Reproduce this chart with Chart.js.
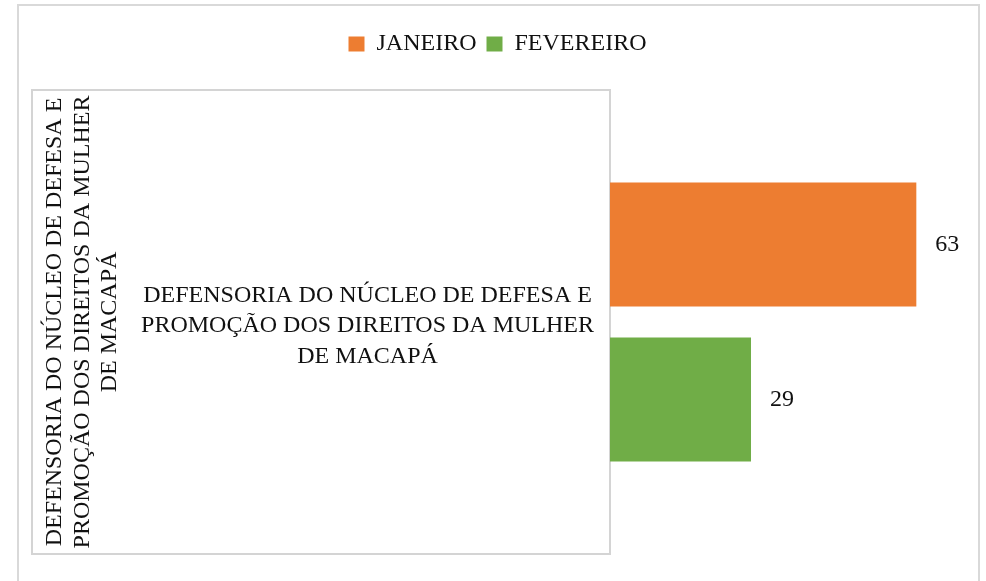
<!DOCTYPE html>
<html>
<head>
<meta charset="utf-8">
<script src="https://cdn.jsdelivr.net/npm/chart.js@4"></script>
<style>
  html, body { margin: 0; padding: 0; background: #fff; overflow: hidden; }
  #frame {
    position: absolute; left: 17px; top: 4px;
    width: 959px; height: 700px;
    border: 2px solid #d9d9d9;
  }
  #chart { position: absolute; left: 0; top: 0; }
</style>
</head>
<body>
<div id="frame"></div>
<canvas id="chart" width="986" height="581"></canvas>
<script>
const categories = [['DEFENSORIA DO NÚCLEO DE DEFESA E', 'PROMOÇÃO DOS DIREITOS DA MULHER', 'DE MACAPÁ']];
const axisTitle = ['DEFENSORIA DO NÚCLEO DE DEFESA E', 'PROMOÇÃO DOS DIREITOS DA MULHER', 'DE MACAPÁ'];
const seriesNames = ['JANEIRO', 'FEVEREIRO'];
const janeiro = [63];
const fevereiro = [29];

const serif = 'Liberation Serif, Times New Roman, serif';

// Box around the category axis area, like the original
const axisBox = {
  id: 'axisBox',
  beforeDatasetsDraw(chart) {
    const y = chart.scales.y;
    const area = chart.chartArea;
    const ctx = chart.ctx;
    ctx.save();
    ctx.strokeStyle = '#d4d4d4';
    ctx.lineWidth = 2;
    ctx.strokeRect(y.left, area.top, y.right - y.left, area.bottom - area.top);
    ctx.restore();
  }
};

// Value labels at the end of each bar
const valueLabels = {
  id: 'valueLabels',
  afterDatasetsDraw(chart) {
    const ctx = chart.ctx;
    ctx.save();
    ctx.font = '24px ' + serif;
    ctx.fillStyle = '#111';
    ctx.textAlign = 'left';
    ctx.textBaseline = 'middle';
    chart.data.datasets.forEach((ds, i) => {
      chart.getDatasetMeta(i).data.forEach((bar, j) => {
        ctx.fillText(ds.data[j], bar.x + 19, bar.y);
      });
    });
    ctx.restore();
  }
};

new Chart(document.getElementById('chart'), {
  type: 'bar',
  data: {
    labels: categories,
    datasets: [
      { label: seriesNames[0], data: janeiro, backgroundColor: '#ED7D31' },
      { label: seriesNames[1], data: fevereiro, backgroundColor: '#70AD47' }
    ]
  },
  options: {
    indexAxis: 'y',
    responsive: false,
    animation: false,
    categoryPercentage: 0.668,
    barPercentage: 0.8,
    layout: { padding: { left: 32, right: 23, top: 22, bottom: 27 } },
    plugins: {
      tooltip: { enabled: false },
      legend: {
        position: 'top',
        labels: {
          boxWidth: 16,
          boxHeight: 15,
          padding: 10,
          color: '#111',
          font: { family: serif, size: 24 }
        }
      }
    },
    scales: {
      x: {
        position: 'top',
        min: 0,
        max: 72.6,
        ticks: { display: false },
        grid: { display: false, drawTicks: false },
        border: { display: false },
        afterFit(scale) { scale.height = 24; }
      },
      y: {
        grid: { display: false, drawTicks: false },
        border: { display: false },
        ticks: {
          crossAlign: 'center',
          padding: 16,
          labelOffset: 4,
          color: '#111',
          font: { family: serif, size: 24, lineHeight: 1.27 }
        },
        title: {
          display: true,
          text: axisTitle,
          color: '#111',
          padding: { top: 9, bottom: 0 },
          font: { family: serif, size: 24, lineHeight: 1.15 }
        },
        afterFit(scale) {
          scale.width = 578;
          scale.paddingTop = 0;
          scale.paddingBottom = 0;
        }
      }
    }
  },
  plugins: [axisBox, valueLabels]
});
</script>
</body>
</html>
